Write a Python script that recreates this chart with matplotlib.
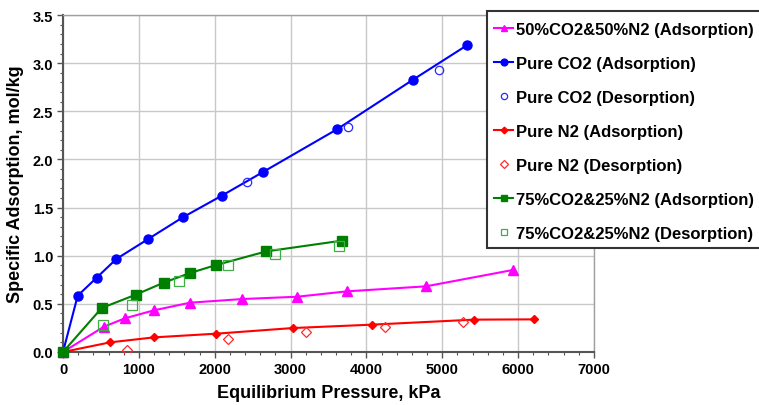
import matplotlib
matplotlib.use("Agg")
import matplotlib.pyplot as plt
from matplotlib.patches import Rectangle
from matplotlib.ticker import MultipleLocator

plt.rcParams['font.family'] = ['Liberation Sans', 'DejaVu Sans']
plt.rcParams['font.weight'] = 'bold'

# ---- data ----
mix50_ads_p = [0, 540, 817, 1200, 1674, 2364, 3089, 3744, 4785, 5932]
mix50_ads_q = [0, 0.263, 0.350, 0.433, 0.512, 0.550, 0.574, 0.630, 0.682, 0.852]

co2_ads_p = [0, 194, 444, 703, 1116, 1578, 2092, 2636, 3612, 4614, 5330]
co2_ads_q = [0, 0.585, 0.772, 0.966, 1.170, 1.398, 1.623, 1.869, 2.313, 2.828, 3.188]

co2_des_p = [2430, 3757, 4952, 5650]
co2_des_q = [1.765, 2.340, 2.929, 2.00]

n2_ads_p = [0, 620, 1200, 2013, 3032, 4073, 5414, 6209]
n2_ads_q = [0, 0.100, 0.152, 0.190, 0.249, 0.284, 0.336, 0.339]

n2_des_p = [839, 2175, 3203, 4240, 5277]
n2_des_q = [0.021, 0.135, 0.204, 0.263, 0.308]

mix75_ads_p = [0, 510, 958, 1327, 1674, 2017, 2680, 3674]
mix75_ads_q = [0, 0.457, 0.595, 0.720, 0.820, 0.903, 1.045, 1.156]

mix75_des_p = [532, 910, 1533, 2171, 2790, 3638, 5650]
mix75_des_q = [0.284, 0.492, 0.741, 0.903, 1.014, 1.104, 1.18]

labels = ["50%CO2&50%N2 (Adsorption)", "Pure CO2 (Adsorption)", "Pure CO2 (Desorption)",
          "Pure N2 (Adsorption)", "Pure N2 (Desorption)",
          "75%CO2&25%N2 (Adsorption)", "75%CO2&25%N2 (Desorption)"]

W, H = 759, 406
fig = plt.figure(figsize=(W / 100, H / 100), dpi=100)
ax = fig.add_axes([63 / W, 1 - 353 / H, (594 - 63) / W, (353 - 16) / H])

lw = 1.5
ax.plot(mix50_ads_p, mix50_ads_q, color='#ff00ff', lw=lw, marker='^', ms=6.5,
        label=labels[0], clip_on=False, zorder=3)
ax.plot(co2_ads_p, co2_ads_q, color='#0000ff', lw=lw, marker='o', ms=6.5,
        label=labels[1], clip_on=False, zorder=3)
ax.plot(co2_des_p, co2_des_q, ls='none', marker='o', ms=6, mfc='none', mec='#2a2aff',
        mew=0.9, label=labels[2], zorder=3)
ax.plot(n2_ads_p, n2_ads_q, color='#ff0000', lw=lw, marker='D', ms=4.5,
        label=labels[3], clip_on=False, zorder=3)
ax.plot(n2_des_p, n2_des_q, ls='none', marker='D', ms=5, mfc='none', mec='#ff2a2a',
        mew=0.9, label=labels[4], zorder=3)
ax.plot(mix75_ads_p, mix75_ads_q, color='#008000', lw=lw, marker='s', ms=6.5,
        label=labels[5], clip_on=False, zorder=3)
ax.plot(mix75_des_p, mix75_des_q, ls='none', marker='s', ms=6.5, mfc='none', mec='#3cb043',
        mew=0.9, label=labels[6], zorder=3)

ax.set_xlim(0, 7000)
ax.set_ylim(0, 3.5)
ax.xaxis.set_major_locator(MultipleLocator(1000))
ax.xaxis.set_minor_locator(MultipleLocator(200))
ax.yaxis.set_major_locator(MultipleLocator(0.5))
ax.yaxis.set_minor_locator(MultipleLocator(0.1))
ax.yaxis.set_major_formatter(plt.FuncFormatter(lambda v, p: f"{v:.1f}"))
ax.grid(True, which='major', color='#c8c8c8', lw=1.0, zorder=0)
ax.set_axisbelow(True)

for s in ['top', 'right']:
    ax.spines[s].set_color('#a0a0a0')
    ax.spines[s].set_linewidth(1.0)
for s in ['left', 'bottom']:
    ax.spines[s].set_color('#555555')
    ax.spines[s].set_linewidth(1.5)

ax.tick_params(which='major', direction='out', length=4, width=1, color='#555555',
               labelsize=10.5, pad=3)
ax.tick_params(which='minor', direction='out', length=2.5, width=0.8, color='#555555')
for t in ax.get_xticklabels() + ax.get_yticklabels():
    t.set_fontweight('bold')

ax.set_xlabel("Equilibrium Pressure, kPa", fontsize=13, fontweight='bold', labelpad=6)
ax.set_ylabel("Specific Adsorption, mol/kg", fontsize=13, fontweight='bold', labelpad=6)

# legend frame (extends beyond the figure right edge)
rect = Rectangle((487 / W, 1 - 249 / H), (780 - 487) / W, (249 - 12) / H,
                 transform=fig.transFigure, facecolor='white', edgecolor='#333333',
                 lw=1.5, zorder=4, clip_on=False)
fig.add_artist(rect)

handles, labs = ax.get_legend_handles_labels()
leg = fig.legend(handles, labs, loc='upper left', bbox_to_anchor=(494 / W, 1 - 23 / H),
                 frameon=False, prop={'weight': 'bold', 'size': 12},
                 handlelength=1.15, handletextpad=0.15, labelspacing=1.14,
                 markerscale=0.75, borderpad=0, borderaxespad=0)
leg.set_zorder(6)

fig.savefig("out.png", dpi=100)
